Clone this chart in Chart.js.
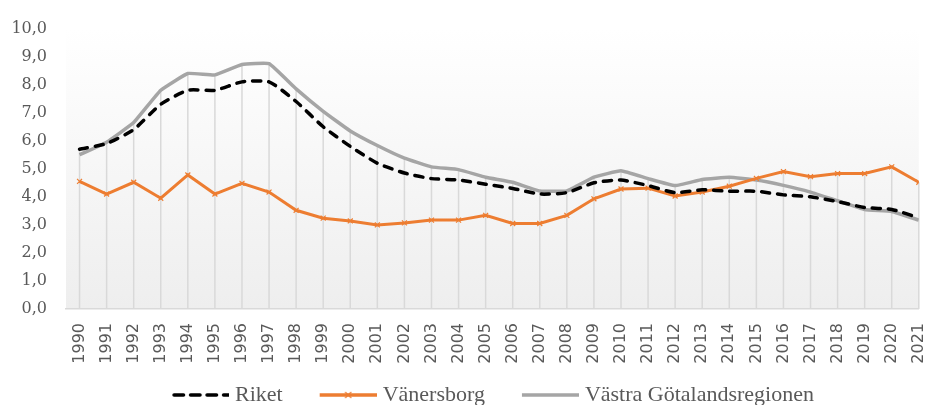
<!DOCTYPE html>
<html>
<head>
<meta charset="utf-8">
<script src="https://cdn.jsdelivr.net/npm/chart.js@4.4.0/dist/chart.umd.min.js"></script>
<style>
  html, body { margin: 0; padding: 0; background: #fff; overflow: hidden; }
  canvas { display: block; }
</style>
</head>
<body>
<canvas id="chart" width="952" height="405"></canvas>
<script>
const years = ["1990", "1991", "1992", "1993", "1994", "1995", "1996", "1997", "1998", "1999",
  "2000", "2001", "2002", "2003", "2004", "2005", "2006", "2007", "2008", "2009",
  "2010", "2011", "2012", "2013", "2014", "2015", "2016", "2017", "2018", "2019",
  "2020", "2021"];

const riket = [5.7, 5.9, 6.4, 7.3, 7.8, 7.8, 8.1, 8.1, 7.4, 6.5,
  5.8, 5.2, 4.85, 4.65, 4.6, 4.45, 4.3, 4.1, 4.15, 4.5,
  4.6, 4.4, 4.15, 4.25, 4.2, 4.2, 4.07, 4.0, 3.83, 3.62,
  3.55, 3.25];

const vanersborg = [4.55, 4.1, 4.52, 3.95, 4.78, 4.1, 4.48, 4.17, 3.52, 3.24,
  3.14, 3.0, 3.07, 3.17, 3.17, 3.34, 3.05, 3.05, 3.34, 3.93,
  4.28, 4.31, 4.03, 4.17, 4.38, 4.66, 4.9, 4.72, 4.83, 4.83,
  5.07, 4.52];

const vastra = [5.5, 5.95, 6.65, 7.8, 8.4, 8.35, 8.72, 8.75, 7.85, 7.05,
  6.35, 5.83, 5.38, 5.07, 4.97, 4.7, 4.52, 4.21, 4.21, 4.7,
  4.93, 4.65, 4.4, 4.62, 4.7, 4.6, 4.41, 4.17, 3.86, 3.55,
  3.48, 3.17];

const farger = { riket: "#000000", vanersborg: "#ED7D31", vastra: "#A5A5A5" };

// bakgrund med svag toning i diagramytan
const bakgrund = {
  id: "bakgrund",
  beforeDraw(chart) {
    const { ctx, chartArea: a } = chart;
    const g = ctx.createLinearGradient(0, a.top, 0, a.bottom);
    g.addColorStop(0, "#ffffff");
    g.addColorStop(0.12, "#fdfdfd");
    g.addColorStop(1, "#eeeeee");
    ctx.save();
    ctx.fillStyle = g;
    ctx.fillRect(a.left, a.top, a.right - a.left, a.bottom - a.top);
    ctx.restore();
  }
};

// lodräta linjer från högsta punkten ner till axeln
const droplinjer = {
  id: "droplinjer",
  beforeDatasetsDraw(chart) {
    const { ctx } = chart;
    const x = chart.scales.x;
    const y = chart.scales.y;
    ctx.save();
    ctx.strokeStyle = "#d9d9d9";
    ctx.lineWidth = 1.5;
    ctx.beginPath();
    years.forEach((ar, i) => {
      const topp = Math.max(riket[i], vanersborg[i], vastra[i]);
      const px = x.getPixelForValue(Number(ar));
      ctx.moveTo(px, y.getPixelForValue(topp));
      ctx.lineTo(px, y.getPixelForValue(0));
    });
    ctx.stroke();
    ctx.restore();
  }
};

// legendsymbol: linjen ligger nära texten, luft åt vänster
function symbol(farg, streck, kryss) {
  const c = document.createElement("canvas");
  c.width = 86;
  c.height = 14;
  const ctx = c.getContext("2d");
  ctx.strokeStyle = farg;
  ctx.lineWidth = 3.5;
  ctx.lineCap = streck.length ? "round" : "butt";
  ctx.setLineDash(streck);
  ctx.beginPath();
  ctx.moveTo(streck.length ? 31 : 29, 7);
  ctx.lineTo(86, 7);
  ctx.stroke();
  if (kryss) {
    ctx.setLineDash([]);
    ctx.lineWidth = 1.2;
    ctx.beginPath();
    ctx.moveTo(54.5, 4); ctx.lineTo(60.5, 10);
    ctx.moveTo(60.5, 4); ctx.lineTo(54.5, 10);
    ctx.stroke();
  }
  return c;
}

const symboler = [
  symbol(farger.riket, [9.5, 7], false),
  symbol(farger.vanersborg, [], true),
  symbol(farger.vastra, [], false)
];

new Chart(document.getElementById("chart"), {
  type: "line",
  data: {
    labels: years,
    datasets: [
      {
        label: "Riket",
        data: riket,
        borderColor: farger.riket,
        backgroundColor: farger.riket,
        borderWidth: 3.5,
        borderDash: [8, 8],
        borderCapStyle: "round",
        tension: 0.2,
        pointRadius: 0
      },
      {
        label: "Vänersborg",
        data: vanersborg,
        borderColor: farger.vanersborg,
        backgroundColor: farger.vanersborg,
        borderWidth: 3,
        tension: 0,
        pointStyle: "crossRot",
        pointRadius: 3.5,
        pointBorderWidth: 1.2
      },
      {
        label: "Västra Götalandsregionen",
        data: vastra,
        borderColor: farger.vastra,
        backgroundColor: farger.vastra,
        borderWidth: 3.5,
        tension: 0.1,
        pointRadius: 0
      }
    ]
  },
  options: {
    responsive: false,
    animation: false,
    devicePixelRatio: 1,
    layout: { padding: { top: 19, left: 10, right: 0, bottom: 0 } },
    plugins: {
      tooltip: { enabled: false },
      legend: {
        position: "bottom",
        maxHeight: 34,
        labels: {
          usePointStyle: true,
          pointStyleWidth: 76,
          padding: 13,
          color: "#595959",
          font: { family: "'Liberation Serif', serif", size: 22 },
          generateLabels(chart) {
            const items = Chart.defaults.plugins.legend.labels.generateLabels(chart);
            items.forEach((it, i) => { it.pointStyle = symboler[i]; });
            return items;
          }
        }
      }
    },
    scales: {
      x: {
        type: "linear",
        // sista året hamnar precis i högerkanten, som i originalet
        min: 1989.5,
        max: 2021,
        grid: { display: false, drawTicks: false },
        border: { display: true, color: "#d9d9d9", width: 1.5 },
        ticks: {
          stepSize: 1,
          includeBounds: false,
          minRotation: 90,
          maxRotation: 90,
          autoSkip: false,
          padding: 14,
          color: "#595959",
          font: { family: "'DejaVu Sans', sans-serif", size: 16 },
          callback: v => String(v)
        },
        afterFit(scale) { scale.height = 62; }
      },
      y: {
        min: 0,
        max: 10,
        grid: { display: false, drawTicks: false },
        border: { display: false },
        ticks: {
          stepSize: 1,
          padding: 19,
          color: "#595959",
          font: { family: "'DejaVu Serif', serif", size: 16 },
          callback: v => v.toFixed(1).replace(".", ",")
        },
        afterFit(scale) { scale.width = 56; }
      }
    }
  },
  plugins: [bakgrund, droplinjer]
});
</script>
</body>
</html>
